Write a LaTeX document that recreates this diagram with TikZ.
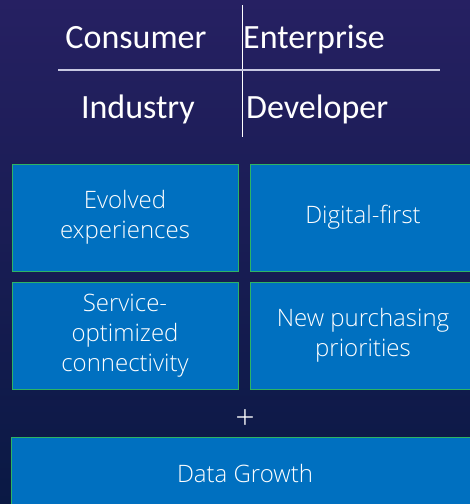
\documentclass[tikz,border=0pt]{standalone}
\usepackage{fontspec}
\setmainfont{Carlito}
\newfontfamily\thinfont{Open Sans Light}
\definecolor{navytop}{RGB}{38,32,98}
\definecolor{navybottom}{RGB}{10,25,68}
\definecolor{tileblue}{RGB}{0,112,192}
\definecolor{tilegreen}{RGB}{46,180,100}
\definecolor{rulegrey}{RGB}{200,200,225}
\tikzset{
  quad/.style={text=white, font=\fontsize{34}{36}\selectfont, inner sep=0pt},
  tile/.style={draw=tilegreen, line width=0.9pt, fill=tileblue, text=white, align=center,
    minimum width=226pt, minimum height=107pt, inner sep=0pt,
    font=\thinfont\fontsize{24}{30}\selectfont}
}
\begin{document}
\begin{tikzpicture}[x=1pt,y=-1pt]
\useasboundingbox (0,0) rectangle (470,504);
\clip (0,0) rectangle (470,504);
%background
\shade[top color=navytop, bottom color=navybottom] (0,0) rectangle (470,504);
%quadrant labels
\node[quad, anchor=base] (consumer) at (136,48) {Consumer};
\node[quad, anchor=base west] (enterprise) at (243,48) {Enterprise};
\node[quad, anchor=base] (industry) at (138,118) {Industry};
\node[quad, anchor=base west] (developer) at (246,118) {Developer};
%dividers
\coordinate (vtop) at (242,5);
\coordinate (vbot) at (242,137);
\coordinate (hleft) at (58,70);
\coordinate (hright) at (440,70);
\draw[white, line width=1pt] (vtop) -- (vbot);
\draw[rulegrey, line width=1.2pt] (hleft) -- (hright);
%tiles
\node[tile] (evolved) at (125,217.5) {Evolved\\experiences};
\node[tile] (digital) at (363,217.5) {Digital-first};
\node[tile] (service) at (125,335.5) {Service-\\optimized\\connectivity};
\node[tile] (purchasing) at (363,335.5) {New purchasing\\priorities};
\node[text=white, inner sep=0pt, font=\thinfont\fontsize{34}{34}\selectfont] (plus) at (245,420) {+};
\node[tile, minimum width=468pt, minimum height=72pt] (data) at (245,473) {Data Growth};
\end{tikzpicture}
\end{document}
